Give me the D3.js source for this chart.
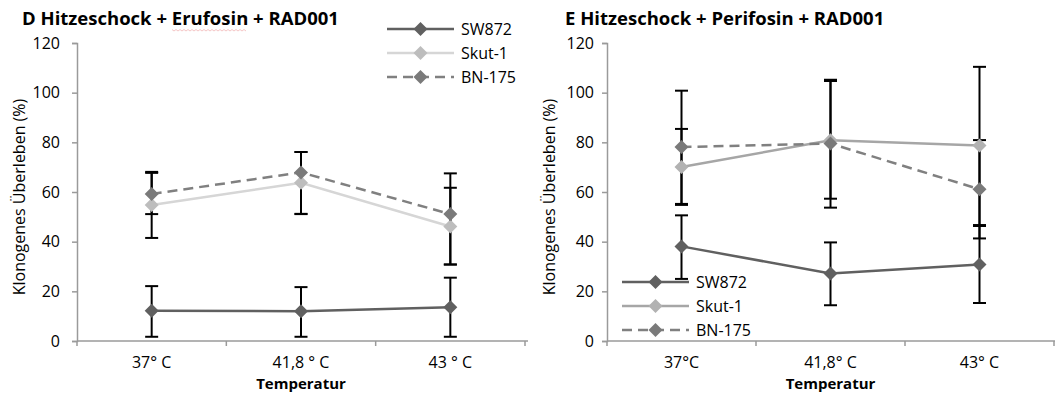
<!DOCTYPE html>
<html>
<head>
<meta charset="utf-8">
<script src="https://cdn.jsdelivr.net/npm/d3@7"></script>
<style>
  html, body { margin: 0; padding: 0; background: #fff; }
  svg { display: block; font-family: "Open Sans", Lato, sans-serif; }
</style>
</head>
<body>
<svg id="chart" width="1055" height="396"></svg>
<script>
// ---------------- data ----------------
const seriesNames = ["SW872", "Skut-1", "BN-175"];
const yTicks = [0, 20, 40, 60, 80, 100, 120];

const titleD = "D Hitzeschock + Erufosin + RAD001";
const titleE = "E Hitzeschock + Perifosin + RAD001";
const yTitle = "Klonogenes Überleben (%)";
const xTitle = "Temperatur";

const categoriesD = ["37° C", "41,8 ° C", "43 ° C"];
const categoriesE = ["37°C", "41,8° C", "43° C"];

// Panel D values and error bars (plus / minus)
const dSW872 = [12.2, 12.0, 13.6];
const dSW872Plus = [9.9, 9.7, 11.9];
const dSW872Minus = [10.5, 10.3, 11.9];
const dSkut1 = [54.8, 63.7, 46.1];
const dSkut1Plus = [13.3, 12.4, 15.6];
const dSkut1Minus = [13.3, 12.5, 15.3];
const dBN175 = [59.2, 67.9, 51.1];
const dBN175Plus = [8.5, 8.2, 16.4];
const dBN175Minus = [8.1, 16.8, 20.3];

// Panel E values and error bars (plus / minus)
const eSW872 = [38.1, 27.2, 30.8];
const eSW872Plus = [12.5, 12.5, 15.5];
const eSW872Minus = [13.1, 12.8, 15.5];
const eSkut1 = [70.1, 80.8, 78.7];
const eSkut1Plus = [15.3, 24.4, 31.7];
const eSkut1Minus = [15.3, 23.5, 32.0];
const eBN175 = [78.1, 79.5, 61.1];
const eBN175Plus = [22.7, 25.2, 19.8];
const eBN175Minus = [22.9, 25.8, 19.8];

// ---------------- drawing ----------------
const svg = d3.select("#chart");
const FONT = "'Open Sans', Lato, sans-serif";

function diamond(r) {
  return `M0,${-r}L${r},0L0,${r}L${-r},0Z`;
}

function drawPanel(cfg) {
  const g = svg.append("g");
  const x = d3.scaleBand().domain(cfg.categories).range([cfg.x0, cfg.x1]).padding(0);
  const y = d3.scaleLinear().domain([0, 120]).range([341, 43]);

  // title
  g.append("text")
    .attr("x", cfg.titleX).attr("y", 25)
    .attr("font-size", 18.5).attr("font-weight", "bold").attr("fill", "#000")
    .text(cfg.title);
  if (cfg.squiggle) {
    // spell-check underline visible in the reference under "Erufosin"
    const pts = d3.range(cfg.squiggle[0], cfg.squiggle[1], 2).map((px, i) => [px, 30 + (i % 2 ? 1 : -0.5)]);
    g.append("path").attr("d", d3.line()(pts)).attr("fill", "none")
      .attr("stroke", "#f2b8b8").attr("stroke-width", 0.8);
  }

  // y axis
  const ya = g.append("g").attr("transform", `translate(${cfg.x0},0)`)
    .call(d3.axisLeft(y).tickValues(yTicks).tickSize(5).tickPadding(cfg.tickPad));
  ya.select(".domain").attr("stroke", "#9a9a9a").attr("stroke-width", 1.5);
  ya.selectAll(".tick line").attr("stroke", "#9a9a9a").attr("stroke-width", 1.5);
  ya.selectAll(".tick text").attr("font-size", 16).attr("fill", "#000")
    .attr("font-family", FONT);

  // x axis (category boundaries ticks)
  const xa = g.append("g").attr("transform", `translate(0,341)`);
  xa.append("line").attr("x1", cfg.x0).attr("x2", cfg.x1 + 3).attr("y1", 0).attr("y2", 0)
    .attr("stroke", "#9a9a9a").attr("stroke-width", 1.5);
  const bounds = cfg.categories.map(c => x(c)).concat([cfg.x1]);
  xa.selectAll("line.tk").data(bounds).join("line").attr("class", "tk")
    .attr("x1", d => d).attr("x2", d => d).attr("y1", 0).attr("y2", 5)
    .attr("stroke", "#9a9a9a").attr("stroke-width", 1.5);
  xa.selectAll("text.cat").data(cfg.categories).join("text").attr("class", "cat")
    .attr("x", d => x(d) + x.bandwidth() / 2).attr("y", 27)
    .attr("text-anchor", "middle").attr("font-size", 16).attr("fill", "#000")
    .text(d => d);

  // axis titles
  g.append("text")
    .attr("x", (cfg.x0 + cfg.x1) / 2).attr("y", 389)
    .attr("text-anchor", "middle").attr("font-size", 15).attr("font-weight", "bold")
    .text(xTitle);
  g.append("text")
    .attr("transform", `translate(${cfg.yTitleX},197) rotate(-90)`)
    .attr("text-anchor", "middle").attr("font-size", 16)
    .text(yTitle);

  const cx = i => x(cfg.categories[i]) + x.bandwidth() / 2;

  // error bars
  cfg.series.forEach(s => {
    s.values.forEach((v, i) => {
      const top = v + s.plus[i], bot = v - s.minus[i];
      const eb = g.append("g").attr("stroke", "#000").attr("stroke-width", 2);
      eb.append("line").attr("x1", cx(i)).attr("x2", cx(i)).attr("y1", y(top)).attr("y2", y(bot));
      eb.append("line").attr("x1", cx(i) - 6.5).attr("x2", cx(i) + 6.5).attr("y1", y(top)).attr("y2", y(top));
      eb.append("line").attr("x1", cx(i) - 6.5).attr("x2", cx(i) + 6.5).attr("y1", y(bot)).attr("y2", y(bot));
    });
  });

  // lines
  const line = d3.line().x((d, i) => cx(i)).y(d => y(d));
  cfg.series.forEach(s => {
    g.append("path").datum(s.values).attr("d", line)
      .attr("fill", "none").attr("stroke", s.line).attr("stroke-width", 2.5)
      .attr("stroke-dasharray", s.dash || null);
  });
  // markers
  cfg.series.forEach(s => {
    g.selectAll(null).data(s.values).join("path")
      .attr("d", diamond(7))
      .attr("transform", (d, i) => `translate(${cx(i)},${y(d)})`)
      .attr("fill", s.marker);
  });

  // legend
  const lg = g.append("g");
  cfg.series.forEach((s, k) => {
    const ly = cfg.legY + k * 24;
    lg.append("line").attr("x1", cfg.legX).attr("x2", cfg.legX + 67).attr("y1", ly).attr("y2", ly)
      .attr("stroke", s.line).attr("stroke-width", 2.5).attr("stroke-dasharray", s.dash || null);
    lg.append("path").attr("d", diamond(7)).attr("transform", `translate(${cfg.legX + 33.5},${ly})`)
      .attr("fill", s.marker);
    lg.append("text").attr("x", cfg.legX + 74).attr("y", ly + 6)
      .attr("font-size", 16).attr("fill", "#000").text(seriesNames[k]);
  });
  return g;
}

drawPanel({
  title: titleD, titleX: 22, categories: categoriesD, x0: 77, x1: 525, tickPad: 12, yTitleX: 25,
  legX: 387, legY: 29, squiggle: [172, 248],
  series: [
    { values: dSW872, plus: dSW872Plus, minus: dSW872Minus, line: "#606060", marker: "#606060" },
    { values: dSkut1, plus: dSkut1Plus, minus: dSkut1Minus, line: "#d6d6d6", marker: "#bdbdbd" },
    { values: dBN175, plus: dBN175Plus, minus: dBN175Minus, line: "#808080", marker: "#7a7a7a", dash: "10,6" }
  ]
});
drawPanel({
  title: titleE, titleX: 565, categories: categoriesE, x0: 607, x1: 1054, tickPad: 8, yTitleX: 555,
  legX: 622, legY: 282,
  series: [
    { values: eSW872, plus: eSW872Plus, minus: eSW872Minus, line: "#606060", marker: "#606060" },
    { values: eSkut1, plus: eSkut1Plus, minus: eSkut1Minus, line: "#a6a6a6", marker: "#b2b2b2" },
    { values: eBN175, plus: eBN175Plus, minus: eBN175Minus, line: "#808080", marker: "#7a7a7a", dash: "10,6" }
  ]
});
</script>
</body>
</html>
